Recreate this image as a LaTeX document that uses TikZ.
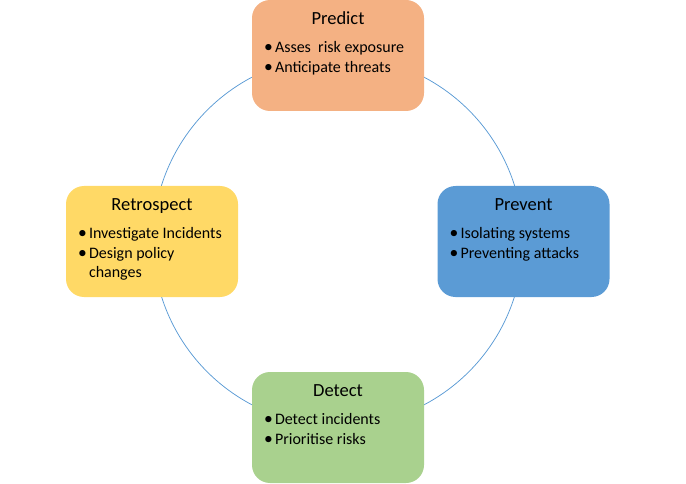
\documentclass[tikz,border=0pt]{standalone}
\usepackage{fontspec}
\usepackage{graphicx}
\setmainfont{Carlito}
\usetikzlibrary{calc}
\definecolor{predictfill}{HTML}{F4B183}
\definecolor{preventfill}{HTML}{5B9BD5}
\definecolor{detectfill}{HTML}{A9D18E}
\definecolor{retrofill}{HTML}{FFD966}
\definecolor{ringblue}{HTML}{5B9BD5}
\newcommand{\bul}{\makebox[10pt][l]{\hspace{-1pt}\scalebox{1.1}{\textbullet}}}

\begin{document}
\begin{tikzpicture}[x=1pt,y=-1pt,
  box/.style={rounded corners=18pt,minimum width=172pt,minimum height=111pt,inner sep=0pt},
  head/.style={anchor=base,inner sep=0pt,font=\fontsize{18.5}{22}\selectfont},
  items/.style={anchor=base west,inner sep=0pt,font=\fontsize{16}{19.5}\selectfont}]
\useasboundingbox (0,0) rectangle (686,484);
\draw[ringblue,line width=0.75pt] (338,241) circle (185);

\node[box,fill=predictfill] (predict) at (338,55.5) {};
\node[head] (predict-title) at ($(predict.north)+(0,25)$) {Predict};
\node[items] (predict-items) at ($(predict.north west)+(13,53)$)
  {\begin{tabular}[t]{@{}l@{}}\bul Asses\ \ risk exposure\\ \bul Anticipate threats\end{tabular}};

\node[box,fill=preventfill] (prevent) at (523.5,241.5) {};
\node[head] (prevent-title) at ($(prevent.north)+(0,25)$) {Prevent};
\node[items] (prevent-items) at ($(prevent.north west)+(13,53)$)
  {\begin{tabular}[t]{@{}l@{}}\bul Isolating systems\\ \bul Preventing attacks\end{tabular}};

\node[box,fill=detectfill] (detect) at (338,427.5) {};
\node[head] (detect-title) at ($(detect.north)+(0,25)$) {Detect};
\node[items] (detect-items) at ($(detect.north west)+(13,53)$)
  {\begin{tabular}[t]{@{}l@{}}\bul Detect incidents\\ \bul Prioritise risks\end{tabular}};

\node[box,fill=retrofill] (retrospect) at (152,241.5) {};
\node[head] (retrospect-title) at ($(retrospect.north)+(0,25)$) {Retrospect};
\node[items] (retrospect-items) at ($(retrospect.north west)+(13,53)$)
  {\begin{tabular}[t]{@{}l@{}}\bul Investigate Incidents\\ \bul Design policy\\ \hspace*{10pt}changes\end{tabular}};
\end{tikzpicture}
\end{document}
